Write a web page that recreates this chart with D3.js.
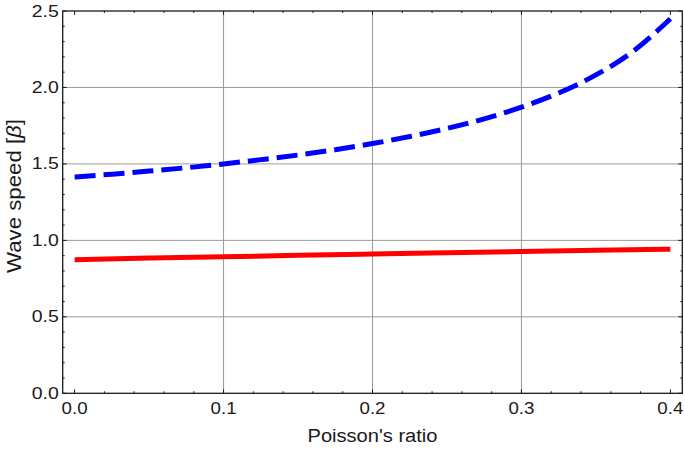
<!DOCTYPE html>
<html>
<head>
<meta charset="utf-8">
<script src="https://cdn.jsdelivr.net/npm/d3@7"></script>
<style>
body{margin:0;background:#fff;}
text{font-family:"Liberation Sans",Arial,sans-serif;fill:#1a1a1a;}
</style>
</head>
<body>
<div id="chart"></div>
<script>
var w=685
var h=449

//Data
var nuP=[0,0.025,0.05,0.075,0.1,0.125,0.15,0.175,0.2,0.225,0.25,0.275,0.3,0.325,0.35,0.375,0.4]
var speedP=[1.414,1.433,1.453,1.475,1.5,1.528,1.558,1.593,1.633,1.679,1.732,1.795,1.871,1.964,2.082,2.236,2.449]
var nuR=[0,0.05,0.1,0.15,0.2,0.25,0.3,0.35,0.4]
var speedR=[0.874,0.884,0.893,0.902,0.911,0.919,0.927,0.935,0.942]
var xTicks=[0,0.1,0.2,0.3,0.4]
var yTicks=[0,0.5,1.0,1.5,2.0,2.5]

//Plot frame edges ("top" is taken by window.top)
var pLeft=62.7,pRight=682.3,pTop=11,pBottom=393.3

var svg=d3.select("#chart")
          .append("svg")
          .attr("width",w)
          .attr("height",h);

var xScale=d3.scaleLinear()
             .domain([-0.008,0.408])
             .range([pLeft,pRight]);
var yScale=d3.scaleLinear()
             .domain([0,2.5])
             .range([pBottom,pTop]);

var fmt=d3.format(".1f");

//Gridlines
var grid=svg.append("g").attr("class","grid");
grid.selectAll("line.gx")
    .data([0.1,0.2,0.3])
    .enter()
    .append("line")
    .attr("x1",function(d){return xScale(d);})
    .attr("x2",function(d){return xScale(d);})
    .attr("y1",pTop)
    .attr("y2",pBottom)
    .attr("stroke","#9b9b9b")
    .attr("stroke-width",1);
grid.selectAll("line.gy")
    .data([0.5,1.0,1.5,2.0])
    .enter()
    .append("line")
    .attr("x1",pLeft)
    .attr("x2",pRight)
    .attr("y1",function(d){return yScale(d);})
    .attr("y2",function(d){return yScale(d);})
    .attr("stroke","#9b9b9b")
    .attr("stroke-width",1);

//Curves
var lineP=d3.line()
            .x(function(d,i){return xScale(nuP[i]);})
            .y(function(d){return yScale(d);})
            .curve(d3.curveMonotoneX);
var lineR=d3.line()
            .x(function(d,i){return xScale(nuR[i]);})
            .y(function(d){return yScale(d);})
            .curve(d3.curveMonotoneX);

svg.append("path")
   .attr("d",lineR(speedR))
   .attr("fill","none")
   .attr("stroke","#ff0000")
   .attr("stroke-width",5);

svg.append("path")
   .attr("d",lineP(speedP))
   .attr("fill","none")
   .attr("stroke","#0000ff")
   .attr("stroke-width",5)
   .style("stroke-dasharray","21,8");

//Frame ticks (inward, all four sides)
var ticks=svg.append("g").attr("class","ticks").attr("stroke","#1a1a1a").attr("stroke-width",1);
var xMinor=d3.range(0,0.4001,0.02);
var yMinor=d3.range(0,2.5001,0.1);
xMinor.forEach(function(v){
    var major=Math.abs(v*10-Math.round(v*10))<1e-6;
    var len=major?4:2;
    ticks.append("line").attr("x1",xScale(v)).attr("x2",xScale(v)).attr("y1",pBottom).attr("y2",pBottom-len);
    ticks.append("line").attr("x1",xScale(v)).attr("x2",xScale(v)).attr("y1",pTop).attr("y2",pTop+len);
});
yMinor.forEach(function(v){
    var major=Math.abs(v*2-Math.round(v*2))<1e-6;
    var len=major?4:2;
    ticks.append("line").attr("x1",pLeft).attr("x2",pLeft+len).attr("y1",yScale(v)).attr("y2",yScale(v));
    ticks.append("line").attr("x1",pRight).attr("x2",pRight-len).attr("y1",yScale(v)).attr("y2",yScale(v));
});

//Frame
svg.append("rect")
   .attr("x",pLeft)
   .attr("y",pTop)
   .attr("width",pRight-pLeft)
   .attr("height",pBottom-pTop)
   .attr("fill","none")
   .attr("stroke","#1a1a1a")
   .attr("stroke-width",1.3);

//Tick labels
svg.append("g").selectAll("text")
   .data(xTicks)
   .enter()
   .append("text")
   .attr("x",function(d){return xScale(d);})
   .attr("y",pBottom+15)
   .attr("text-anchor","middle")
   .attr("dominant-baseline","central")
   .attr("font-size","17px")
   .attr("textLength",26)
   .attr("lengthAdjust","spacingAndGlyphs")
   .text(fmt);

svg.append("g").selectAll("text")
   .data(yTicks)
   .enter()
   .append("text")
   .attr("x",pLeft-4)
   .attr("y",function(d){return yScale(d);})
   .attr("text-anchor","end")
   .attr("dominant-baseline","central")
   .attr("font-size","17px")
   .attr("textLength",27)
   .attr("lengthAdjust","spacingAndGlyphs")
   .text(fmt);

//Axis labels
svg.append("text")
   .attr("x",(pLeft+pRight)/2)
   .attr("y",436)
   .attr("text-anchor","middle")
   .attr("dominant-baseline","central")
   .attr("font-size","18px")
   .attr("textLength",130)
   .attr("lengthAdjust","spacingAndGlyphs")
   .text("Poisson's ratio");

var yl=svg.append("text")
   .attr("transform","translate(14,196) rotate(-90)")
   .attr("text-anchor","middle")
   .attr("dominant-baseline","central")
   .attr("font-size","20px")
   .attr("textLength",154)
   .attr("lengthAdjust","spacingAndGlyphs");
yl.append("tspan").text("Wave speed [");
yl.append("tspan").attr("font-style","italic").text("β");
yl.append("tspan").text("]");
</script>
</body>
</html>
